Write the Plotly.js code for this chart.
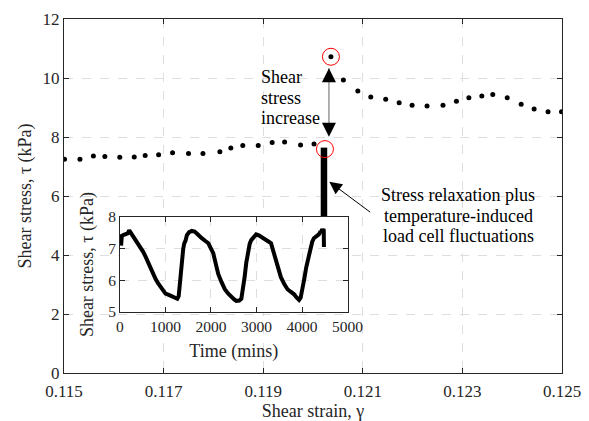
<!DOCTYPE html>
<html>
<head>
<meta charset="utf-8">
<script src="https://cdn.plot.ly/plotly-3.0.1.min.js"></script>
<style>html,body{margin:0;padding:0;background:#fff;}#chart{width:589px;height:421px;}</style>
</head>
<body>
<div id="chart"></div>
<script>
// ---- main plot data: shear strain vs shear stress ----
const strainPre = [0.11501, 0.11532, 0.11559, 0.11582, 0.11612, 0.11641, 0.11663, 0.11690, 0.11718, 0.11750,
                   0.11779, 0.11813, 0.11835, 0.11859, 0.11890, 0.11918, 0.11943, 0.11975, 0.12002];
const stressPre = [7.25, 7.25, 7.36, 7.34, 7.31, 7.32, 7.37, 7.40, 7.47, 7.44,
                   7.44, 7.50, 7.63, 7.71, 7.71, 7.81, 7.83, 7.73, 7.76];
const strainPost = [0.12036, 0.12061, 0.12090, 0.12116, 0.12146, 0.12173, 0.12199, 0.12229, 0.12261, 0.12288,
                    0.12313, 0.12339, 0.12361, 0.12390, 0.12418, 0.12444, 0.12472, 0.12499];
const stressPost = [10.72, 9.93, 9.56, 9.36, 9.28, 9.16, 9.08, 9.05, 9.08, 9.21,
                    9.33, 9.39, 9.44, 9.33, 9.11, 8.95, 8.86, 8.86];
// relaxation hold (all at one strain)
const relaxStrain = [0.12022, 0.12022];
const relaxStress = [5.30, 7.64];
// circled points
const circleStrain = [0.12024, 0.12036];
const circleStress = [7.59, 10.72];
// arrow geometry (data coords)
const increaseArrowX = 0.12032;
const increaseArrowY = [8.01, 10.33];
const noteArrowHead = [0.120327, 6.485];
const noteArrowTail = [0.121179, 5.414];
const increaseLines = ['Shear', 'stress', 'increase'];
const increaseLineY = [10.03, 9.32, 8.63];
const noteLines = ['Stress relaxation plus', 'temperature-induced', 'load cell fluctuations'];
const noteLineY = [6.03, 5.33, 4.64];

// ---- inset data: time (mins) vs shear stress ----
const timeMins = [0, 15, 25, 40, 70, 130, 170, 203, 240, 275, 330, 384, 456, 510, 565, 620, 674, 730, 783, 840,
  891, 950, 1000, 1060, 1109, 1160, 1217, 1260, 1290, 1326, 1362, 1390, 1413, 1440, 1471, 1520, 1580, 1640, 1689, 1740,
  1797, 1870, 1942, 2000, 2051, 2100, 2159, 2230, 2304, 2380, 2449, 2510, 2558, 2620, 2667, 2700, 2739, 2775, 2811, 2850,
  2884, 2940, 2993, 3050, 3101, 3160, 3210, 3270, 3319, 3370, 3428, 3480, 3536, 3610, 3681, 3750, 3826, 3880, 3935, 3970,
  4007, 4050, 4094, 4140, 4188, 4225, 4261, 4300, 4333, 4370, 4406, 4420, 4442, 4460, 4470, 4478, 4482];
const insetStress = [7.25, 7.45, 7.10, 7.40, 7.43, 7.45, 7.48, 7.58, 7.50, 7.40, 7.32, 7.22, 7.06, 6.90, 6.74, 6.55, 6.37, 6.20, 6.04, 5.90,
  5.78, 5.66, 5.58, 5.55, 5.51, 5.50, 5.42, 5.42, 5.50, 6.10, 6.63, 7.00, 7.17, 7.25, 7.43, 7.52, 7.56, 7.54, 7.48, 7.40,
  7.33, 7.25, 7.17, 7.00, 6.85, 6.55, 6.20, 5.95, 5.72, 5.58, 5.46, 5.40, 5.35, 5.36, 5.42, 5.70, 6.10, 6.55, 6.95, 7.15,
  7.27, 7.38, 7.45, 7.42, 7.38, 7.32, 7.27, 7.22, 7.17, 6.90, 6.63, 6.35, 6.10, 5.88, 5.72, 5.64, 5.56, 5.46, 5.38, 5.45,
  5.67, 6.05, 6.42, 6.75, 7.06, 7.22, 7.33, 7.38, 7.43, 7.45, 7.54, 7.50, 7.62, 7.55, 7.62, 7.58, 7.05];

const mainTicks = [0.115, 0.117, 0.119, 0.121, 0.123, 0.125];
const mainTickText = ['0.115', '0.117', '0.119', '0.121', '0.123', '0.125'];

const FONT = 'Liberation Serif, Times New Roman, serif';
const INK = '#262626';
const GRID = '#dedede';

const traces = [
  {x: strainPre, y: stressPre, mode: 'markers', type: 'scatter', marker: {color: '#000', size: 5}, xaxis: 'x', yaxis: 'y', hoverinfo: 'skip'},
  {x: strainPost, y: stressPost, mode: 'markers', type: 'scatter', marker: {color: '#000', size: 5}, xaxis: 'x', yaxis: 'y', hoverinfo: 'skip'},
  {x: relaxStrain, y: relaxStress, mode: 'lines', type: 'scatter', line: {color: '#000', width: 6.5}, xaxis: 'x', yaxis: 'y', hoverinfo: 'skip'},
  {x: circleStrain, y: circleStress, mode: 'markers', type: 'scatter', marker: {symbol: 'circle-open', size: 17, color: '#ff0000', line: {color: '#ff0000', width: 1}}, xaxis: 'x', yaxis: 'y', hoverinfo: 'skip'},
  {x: timeMins, y: insetStress, mode: 'lines', type: 'scatter', line: {color: '#000', width: 4}, xaxis: 'x2', yaxis: 'y2', hoverinfo: 'skip'}
];

const annotations = [];
// gray shaft of the double arrow
annotations.push({x: increaseArrowX, y: increaseArrowY[1], ax: increaseArrowX, ay: increaseArrowY[0], axref: 'x', ayref: 'y', xref: 'x', yref: 'y',
  text: '', showarrow: true, arrowhead: 0, arrowwidth: 1.2, arrowcolor: '#7f7f7f'});
// black heads
annotations.push({x: increaseArrowX, y: increaseArrowY[1], ax: 0, ay: 9, xref: 'x', yref: 'y', text: '', showarrow: true, arrowhead: 2, arrowsize: 2.8, arrowwidth: 1, arrowcolor: '#000'});
annotations.push({x: increaseArrowX, y: increaseArrowY[0], ax: 0, ay: -9, xref: 'x', yref: 'y', text: '', showarrow: true, arrowhead: 2, arrowsize: 2.8, arrowwidth: 1, arrowcolor: '#000'});
// pointer arrow
annotations.push({x: noteArrowHead[0], y: noteArrowHead[1], ax: noteArrowTail[0], ay: noteArrowTail[1], axref: 'x', ayref: 'y', xref: 'x', yref: 'y',
  text: '', showarrow: true, arrowhead: 2, arrowsize: 2.5, arrowwidth: 1, arrowcolor: '#000'});
increaseLines.forEach((t, i) => annotations.push({x: 0.118916, y: increaseLineY[i], xref: 'x', yref: 'y', text: t, showarrow: false,
  xanchor: 'left', yanchor: 'middle', font: {family: FONT, size: 18, color: '#000'}}));
noteLines.forEach((t, i) => annotations.push({x: 0.122912, y: noteLineY[i], xref: 'x', yref: 'y', text: t, showarrow: false,
  xanchor: 'center', yanchor: 'middle', font: {family: FONT, size: 18, color: '#000'}}));

const axisCommon = {
  showline: true, linecolor: INK, linewidth: 1, mirror: 'ticks', ticks: 'inside', tickcolor: INK, ticklen: 5,
  showgrid: true, gridcolor: GRID, griddash: 'dash', gridwidth: 1, zeroline: false, automargin: false,
  tickfont: {family: FONT, size: 17, color: INK}
};

const layout = {
  width: 589, height: 421,
  margin: {l: 64, r: 27, t: 19, b: 48},
  paper_bgcolor: '#fff', plot_bgcolor: '#fff',
  showlegend: false,
  font: {family: FONT, color: INK},
  xaxis: Object.assign({}, axisCommon, {range: [0.115, 0.125], tickvals: mainTicks, ticktext: mainTickText, ticklabelstandoff: 3,
    title: {text: 'Shear strain, γ', font: {family: FONT, size: 18, color: INK}, standoff: 6}}),
  yaxis: Object.assign({}, axisCommon, {range: [0, 12], dtick: 2, tick0: 0,
    title: {text: 'Shear stress, τ (kPa)', font: {family: FONT, size: 18, color: INK}, standoff: 6}}),
  xaxis2: Object.assign({}, axisCommon, {anchor: 'y2', domain: [0.1124, 0.5693], range: [0, 5000], dtick: 1000, tick0: 0,
    tickfont: {family: FONT, size: 15.5, color: INK},
    title: {text: 'Time (mins)', font: {family: FONT, size: 18, color: INK}, standoff: 10}}),
  yaxis2: Object.assign({}, axisCommon, {anchor: 'x2', domain: [0.1723, 0.4407], range: [5, 8], dtick: 1, tick0: 5,
    tickfont: {family: FONT, size: 15.5, color: INK},
    title: {text: 'Shear stress, τ (kPa)', font: {family: FONT, size: 18, color: INK}, standoff: 9}}),
  shapes: [{type: 'rect', xref: 'x2', yref: 'y2', x0: 0, x1: 5000, y0: 5, y1: 8, fillcolor: '#fff', line: {width: 0}, layer: 'below'}],
  annotations: annotations
};

Plotly.newPlot('chart', traces, layout, {displayModeBar: false, staticPlot: true});
</script>
</body>
</html>
